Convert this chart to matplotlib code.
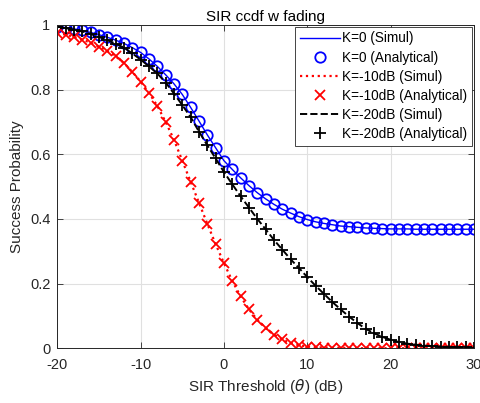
import numpy as np
import matplotlib.pyplot as plt

# SIR threshold (dB), one point per dB
theta_db = list(range(-20, 31))

# K=0
k0_analytical = [0.995, 0.992, 0.988, 0.983, 0.977, 0.970, 0.962, 0.953, 0.943, 0.930,
                 0.915, 0.895, 0.872, 0.846, 0.818, 0.785, 0.745, 0.703, 0.660, 0.620,
                 0.580, 0.553, 0.527, 0.503, 0.481, 0.462, 0.445, 0.430, 0.418, 0.407,
                 0.398, 0.391, 0.386, 0.382, 0.378, 0.376, 0.374, 0.372, 0.371, 0.370,
                 0.369, 0.369, 0.369, 0.368, 0.368, 0.368, 0.368, 0.368, 0.368, 0.368,
                 0.368]
k0_simul = k0_analytical

# K=-10dB
k10_analytical = [0.975, 0.970, 0.963, 0.955, 0.945, 0.933, 0.920, 0.903, 0.882, 0.855,
                  0.825, 0.790, 0.750, 0.700, 0.645, 0.580, 0.515, 0.450, 0.385, 0.322,
                  0.263, 0.208, 0.160, 0.120, 0.088, 0.062, 0.042, 0.027, 0.016, 0.009,
                  0.005, 0.003, 0.002, 0.001, 0.001, 0.001, 0.0, 0.0, 0.0, 0.0,
                  0.0, 0.0, 0.0, 0.0, 0.0, 0.0, 0.0, 0.0, 0.0, 0.0,
                  0.0]
k10_simul = k10_analytical

# K=-20dB
k20_analytical = [0.995, 0.990, 0.985, 0.980, 0.972, 0.963, 0.953, 0.942, 0.930, 0.912,
                  0.893, 0.872, 0.850, 0.822, 0.788, 0.752, 0.715, 0.670, 0.628, 0.587,
                  0.545, 0.507, 0.470, 0.435, 0.400, 0.368, 0.335, 0.305, 0.275, 0.248,
                  0.220, 0.193, 0.168, 0.143, 0.120, 0.098, 0.078, 0.060, 0.046, 0.035,
                  0.026, 0.019, 0.014, 0.011, 0.008, 0.006, 0.005, 0.004, 0.003, 0.003,
                  0.002]
k20_simul = k20_analytical

plt.rcParams['font.family'] = ['Liberation Sans', 'DejaVu Sans']
plt.rcParams['axes.unicode_minus'] = False
txt = '#262626'

fig = plt.figure(figsize=(4.81, 4.03), dpi=100)
ax = fig.add_axes([0.1191, 0.1360, 0.8663, 0.8020])

ax.plot(theta_db, k0_simul, '-', color='#0000ff', lw=1.0, label='K=0 (Simul)')
ax.plot(theta_db, k0_analytical, 'o', color='#0000ff', ms=7.5, mfc='none', mew=1.3,
        label='K=0 (Analytical)')
ax.plot(theta_db, k10_simul, ':', color='#ff0000', lw=1.6, label='K=-10dB (Simul)')
ax.plot(theta_db, k10_analytical, 'x', color='#ff0000', ms=7, mew=1.3,
        label='K=-10dB (Analytical)')
ax.plot(theta_db, k20_simul, '--', color='black', lw=1.4, label='K=-20dB (Simul)')
ax.plot(theta_db, k20_analytical, '+', color='black', ms=8.5, mew=1.3,
        label='K=-20dB (Analytical)')

ax.set_xlim(-20, 30)
ax.set_ylim(0, 1)
ax.set_xticks([-20, -10, 0, 10, 20, 30])
ax.set_yticks([0, 0.2, 0.4, 0.6, 0.8, 1])
ax.set_yticklabels(['0', '0.2', '0.4', '0.6', '0.8', '1'])
ax.grid(True, color='#e0e0e0', lw=0.8)
ax.set_axisbelow(True)
ax.tick_params(direction='in', top=True, right=True, labelsize=10.5, colors=txt,
               length=4, width=0.6)
ax.tick_params(axis='x', pad=7)
ax.tick_params(axis='y', pad=5)
for s in ax.spines.values():
    s.set_color(txt)
    s.set_linewidth(0.7)

ax.set_title('SIR ccdf w fading', fontsize=11, color='black', pad=3)
ax.set_xlabel(r'SIR Threshold ($\theta$) (dB)', fontsize=11, color=txt, labelpad=4)
ax.set_ylabel('Success Probability', fontsize=11, color=txt, labelpad=4)

leg = ax.legend(loc='upper right', fontsize=9.8, frameon=True, fancybox=False,
                edgecolor=txt, framealpha=1, borderpad=0.35, labelspacing=0.38,
                handlelength=2.9, handletextpad=0.2, borderaxespad=0.12)
leg.get_frame().set_linewidth(0.6)

fig.savefig('out.png', dpi=100)
